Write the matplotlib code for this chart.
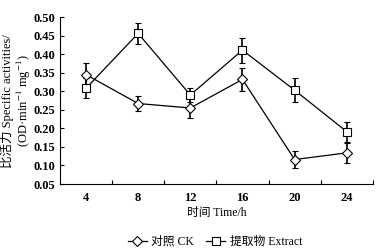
import matplotlib
matplotlib.use("Agg")
import matplotlib.pyplot as plt
from matplotlib.ticker import FixedLocator
from matplotlib.lines import Line2D

plt.rcParams['font.family'] = ['Liberation Serif', 'Noto Sans CJK SC']
plt.rcParams['mathtext.fontset'] = 'stix'

hours = [4, 8, 12, 16, 20, 24]
ck = [0.345, 0.267, 0.255, 0.332, 0.116, 0.134]
ck_err = [0.03, 0.021, 0.027, 0.03, 0.024, 0.027]
extract = [0.308, 0.456, 0.290, 0.411, 0.303, 0.191]
extract_err = [0.027, 0.028, 0.02, 0.034, 0.032, 0.027]

fig = plt.figure(figsize=(3.84, 2.48), dpi=100)
ax = fig.add_axes([0.156, 0.258, 0.815, 0.673])

style = dict(color='black', lw=0.9, mfc='white', mec='black', mew=0.8)
ax.errorbar(hours, ck, yerr=ck_err, marker='D', ms=5, capsize=2.5,
            elinewidth=1.2, capthick=1.2, zorder=3, **style)
ax.errorbar(hours, extract, yerr=extract_err, marker='s', ms=5.5, capsize=2.5,
            elinewidth=1.2, capthick=1.2, zorder=3, **style)

ax.set_xlim(2, 26)
ax.set_ylim(0.05, 0.50)
ax.set_xticks(hours)
ax.xaxis.set_minor_locator(FixedLocator([6, 10, 14, 18, 22, 26]))
ax.set_yticks([0.05, 0.10, 0.15, 0.20, 0.25, 0.30, 0.35, 0.40, 0.45, 0.50])
ax.set_yticklabels(['%.2f' % v for v in ax.get_yticks()])
ax.tick_params(axis='x', which='major', length=0, pad=6)
ax.tick_params(axis='x', which='minor', direction='in', length=3, width=0.8)
ax.tick_params(axis='y', direction='in', length=3, width=0.8, pad=3)
for lab in ax.get_xticklabels() + ax.get_yticklabels():
    lab.set_fontsize(9)
    lab.set_fontweight('bold')

ax.spines['top'].set_visible(False)
ax.spines['right'].set_visible(False)
ax.spines['left'].set_linewidth(0.8)
ax.spines['bottom'].set_linewidth(0.8)

ax.set_xlabel('时间 Time/h', fontsize=8.5, labelpad=2)
ax.set_ylabel('比活力 Specific activities/\n(OD·min$^{-1}$ mg$^{-1}$)',
              fontsize=9, labelpad=1, linespacing=1.0)

handles = [Line2D([], [], marker='D', ms=5, **style),
           Line2D([], [], marker='s', ms=5.5, **style)]
fig.legend(handles, ['对照 CK', '提取物 Extract'], loc='center',
           bbox_to_anchor=(0.56, 0.025), ncol=2, frameon=False, fontsize=8.5,
           handlelength=1.6, columnspacing=1.0, handletextpad=0.4)

fig.savefig('out.png', dpi=100)
